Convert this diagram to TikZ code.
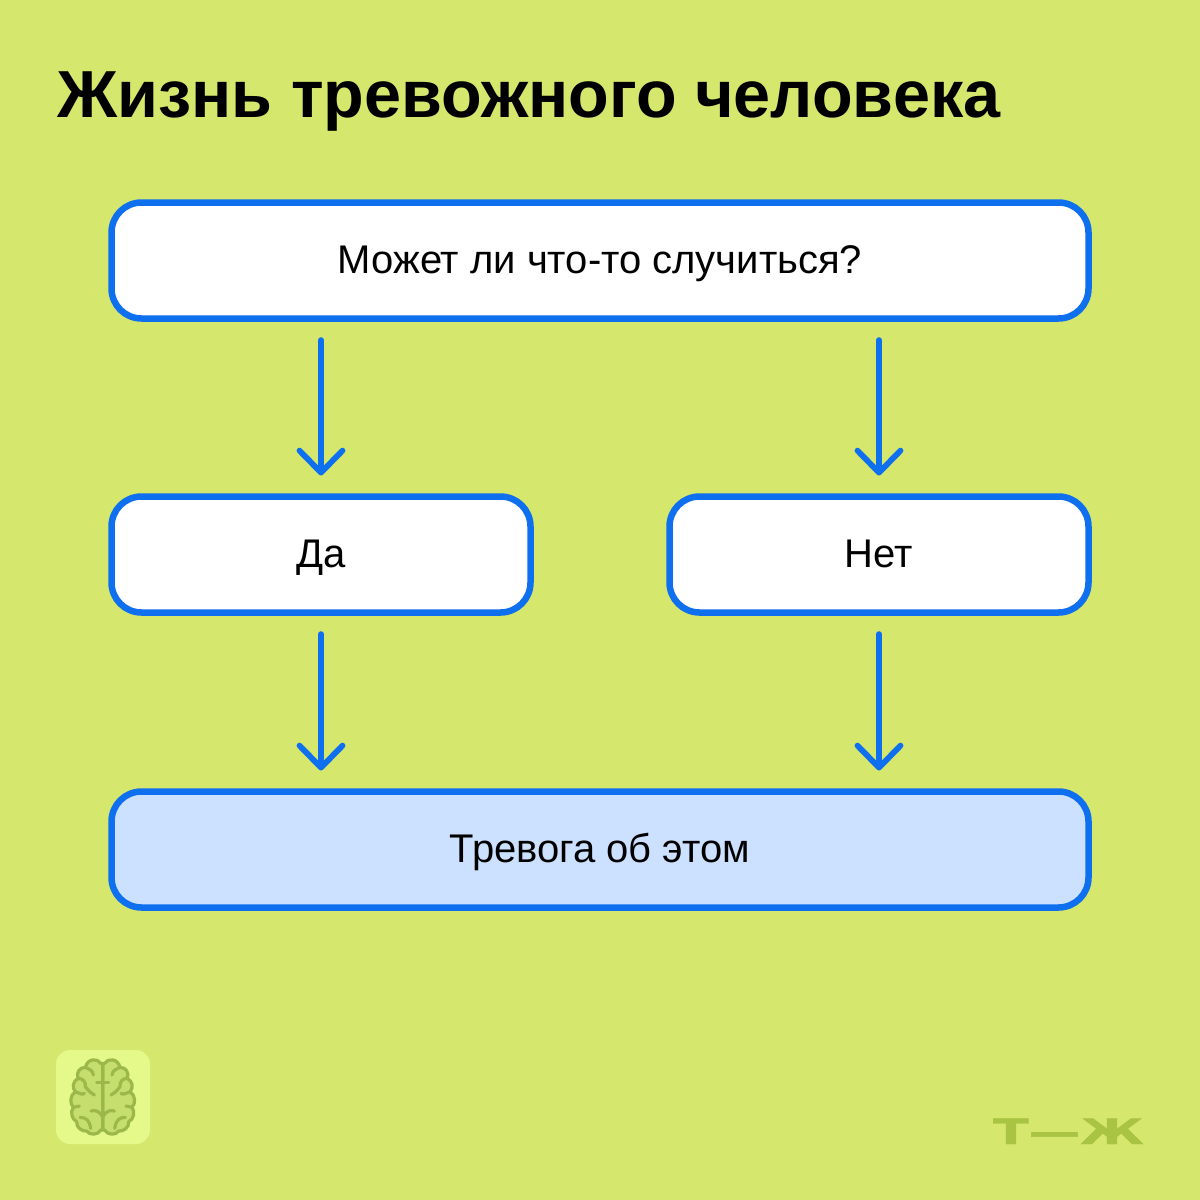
\documentclass[tikz,border=0pt]{standalone}
\usepackage{fontspec}
\setmainfont{Liberation Sans}
\newfontfamily\logofont[FakeBold=1]{DejaVu Sans Bold}
\usetikzlibrary{arrows.meta}
\definecolor{bg}{HTML}{D5E76D}
\definecolor{blu}{HTML}{0E6FEF}
\definecolor{pale}{HTML}{CCE0FF}
\definecolor{tile}{HTML}{E4F98A}
\definecolor{brainline}{HTML}{9DB84A}
\definecolor{brainfill}{HTML}{C6DE6D}
\definecolor{logo}{HTML}{A9C443}
\tikzset{
  flowbox/.style={draw=blu,fill=white,line width=3.25pt,rounded corners=15pt,
    minimum height=58pt,inner sep=0pt,outer sep=0pt,font=\fontsize{20}{24}\selectfont,text=black,
    text height=13pt,text depth=0pt},
  flowarrow/.style={draw=blu,line width=2.9pt,line cap=round,line join=round,
    -{Straight Barb[length=11pt,width=21.5pt,round,line width=2.9pt]},
    shorten <=10.8pt,shorten >=10.5pt},
  brainstroke/.style={draw=brainline,line width=1.6pt,line cap=round,line join=round}
}
\newcommand{\brainhalf}{
  \path[fill=brainfill,brainstroke] (0,100) -- (6,100)
    .. controls (15,84) and (45,84) .. (52,112)
    .. controls (70,112) and (80,128) .. (74,145)
    .. controls (90,155) and (93,172) .. (82,185)
    .. controls (98,195) and (100,220) .. (88,232)
    .. controls (98,245) and (93,268) .. (78,275)
    .. controls (80,292) and (62,305) .. (48,303)
    .. controls (40,316) and (14,316) .. (6,300) -- (0,300) -- cycle;
  \draw[brainstroke] (52,112) .. controls (40,118) and (30,120) .. (28,135);
  \draw[brainstroke] (74,145) .. controls (60,145) and (50,155) .. (52,170) .. controls (40,185) and (35,190) .. (25,195);
  \draw[brainstroke] (0,158) -- (18,158);
  \draw[brainstroke] (82,185) .. controls (70,190) and (60,195) .. (55,190);
  \draw[brainstroke] (88,232) -- (70,228);
  \draw[brainstroke] (0,262) .. controls (10,240) and (25,240) .. (35,243);
  \draw[brainstroke] (68,262) .. controls (50,262) and (40,270) .. (36,295);
}
\begin{document}
\begin{tikzpicture}[x=0.5pt,y=-0.5pt]
\useasboundingbox (0,0) rectangle (1200,1200);
\fill[bg] (0,0) rectangle (1200,1200);
\node[anchor=base west,inner sep=0pt,font=\fontsize{33.27}{40}\bfseries\selectfont] (title) at (57,117) {Жизнь тревожного человека};
\node[flowbox,minimum width=488.5pt] (top) at (600,260.5) {Может ли что-то случиться?};
\node[flowbox,minimum width=209.5pt] (da) at (321,554.5) {Да};
\node[flowbox,minimum width=209.5pt] (net) at (879,554.5) {Нет};
\node[flowbox,fill=pale,minimum width=488.5pt] (alarm) at (600,849.5) {Тревога об этом};
\draw[flowarrow] (top.south -| da.north) -- (da.north);
\draw[flowarrow] (top.south -| net.north) -- (net.north);
\draw[flowarrow] (da.south) -- (alarm.north -| da.south);
\draw[flowarrow] (net.south) -- (alarm.north -| net.south);
\fill[tile,rounded corners=7pt] (56,1050) rectangle (150,1144);
\begin{scope}[shift={(102.7,1030)},x=0.1667pt,y=-0.1667pt]
\brainhalf
\end{scope}
\begin{scope}[shift={(102.7,1030)},x=-0.1667pt,y=-0.1667pt]
\brainhalf
\end{scope}
\node[anchor=base,inner sep=0pt,text=logo,xscale=1.48,font=\logofont\fontsize{17.5}{20}\selectfont] (brand) at (1068.5,1144) {Т—Ж};
\end{tikzpicture}
\end{document}
